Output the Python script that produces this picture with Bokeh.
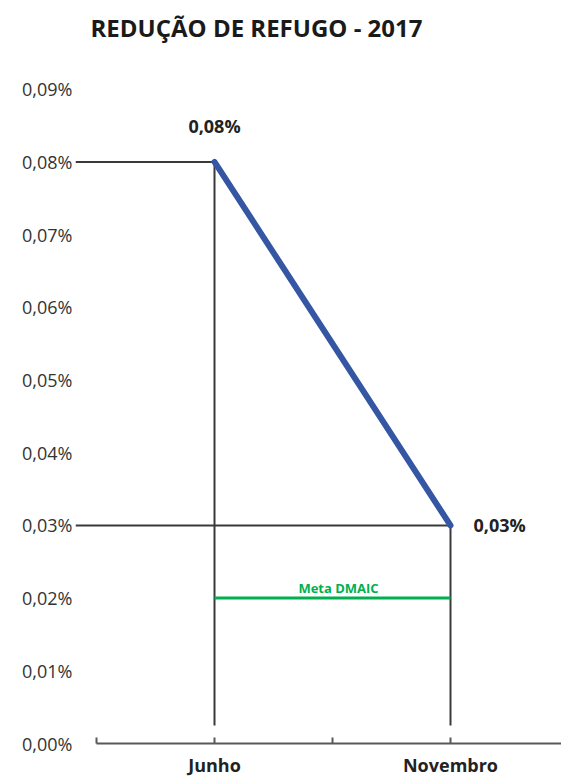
from bokeh.plotting import figure
from bokeh.models import Range1d, FixedTicker
from bokeh.core.properties import value
from bokeh.embed import file_html
from bokeh.resources import INLINE

# ---------------- data ----------------
title_text = "REDUÇÃO DE REFUGO - 2017"
categories = ["Junho", "Novembro"]
refugo = [0.08, 0.03]            # percent
refugo_labels = ["0,08%", "0,03%"]
meta_value = 0.02                # percent
meta_label = "Meta DMAIC"
y_ticks = [0.0, 0.01, 0.02, 0.03, 0.04, 0.05, 0.06, 0.07, 0.08, 0.09]
y_tick_labels = ["0,00%", "0,01%", "0,02%", "0,03%", "0,04%",
                 "0,05%", "0,06%", "0,07%", "0,08%", "0,09%"]

# ---------------- layout ----------------
W, H = 561, 778
LEFT = 75
PX_X = 236.0      # pixels per category step
PX_Y = 7270.0     # pixels per percent unit
X0_PX = 214       # pixel of first category
Y0_PX = 743       # pixel of zero

FONT = value("Open Sans")
xs = list(range(len(categories)))

x_range = Range1d((LEFT - X0_PX) / PX_X, (W - X0_PX) / PX_X)
y_range = Range1d(-(H - Y0_PX) / PX_Y, Y0_PX / PX_Y)

p = figure(width=W, height=H, x_range=x_range, y_range=y_range,
           output_backend="svg", toolbar_location=None,
           x_axis_location=None, min_border_left=LEFT,
           min_border_right=0, min_border_top=0, min_border_bottom=0)
p.outline_line_color = None
p.grid.visible = False
p.background_fill_color = "white"
p.border_fill_color = "white"

yax = p.yaxis[0]
yax.ticker = FixedTicker(ticks=y_ticks)
yax.major_label_overrides = {t: l for t, l in zip(y_ticks, y_tick_labels)}
yax.axis_line_color = None
yax.major_tick_line_color = None
yax.minor_tick_line_color = None
yax.major_tick_out = 0
yax.major_tick_in = 0
yax.major_label_standoff = 3
yax.major_label_text_font = "Open Sans"
yax.major_label_text_font_size = "18px"
yax.major_label_text_color = "#333333"

line_col = "#3a3a3a"
drop_bottom = 18 / PX_Y

# horizontal reference lines from the left edge to each point
p.segment(x0=[x_range.start] * len(xs), y0=refugo, x1=xs, y1=refugo,
          line_color=line_col, line_width=2)
# vertical drop lines
p.segment(x0=xs, y0=refugo, x1=xs, y1=[drop_bottom] * len(xs),
          line_color=line_col, line_width=2)

# x axis (custom)
p.segment(x0=[xs[0] - 0.5], y0=[0], x1=[xs[-1] + 1.0], y1=[0],
          line_color="#595959", line_width=2)
tick_x = sorted(xs + [i - 0.5 for i in xs])
tick_len = 6 / PX_Y
p.segment(x0=tick_x, y0=[0] * len(tick_x), x1=tick_x, y1=[tick_len] * len(tick_x),
          line_color="#595959", line_width=2)

# meta line
p.line(x=[xs[0], xs[-1]], y=[meta_value, meta_value], line_color="#00B050", line_width=3)
p.text(x=[(xs[0] + xs[-1]) / 2 + 6 / PX_X], y=[meta_value + 10.6 / PX_Y], text=[meta_label],
       text_font=FONT, text_font_size="13px", text_font_style="bold",
       text_color="#00B050", text_align="center", text_baseline="middle")

# main series
p.line(x=xs, y=refugo, line_color="#3456A3", line_width=6, line_cap="round")

# data labels
p.text(x=[xs[0]], y=[refugo[0] + 36 / PX_Y], text=[refugo_labels[0]],
       text_font=FONT, text_font_size="18px", text_font_style="bold",
       text_color="#222222", text_align="center", text_baseline="middle")
p.text(x=[xs[-1] + 23 / PX_X], y=[refugo[-1]], text=[refugo_labels[-1]],
       text_font=FONT, text_font_size="18px", text_font_style="bold",
       text_color="#222222", text_align="left", text_baseline="middle")

# category labels
p.text(x=xs, y=[-21 / PX_Y] * len(xs), text=categories,
       text_font=FONT, text_font_size="18px", text_font_style="bold",
       text_color="#222222", text_align="center", text_baseline="middle")

# title
p.text(x=[(256 - X0_PX) / PX_X], y=[(Y0_PX - 27) / PX_Y], text=[title_text],
       text_font=FONT, text_font_size="24px", text_font_style="bold",
       text_color="#1a1a1a", text_align="center", text_baseline="middle")

open("out.html", "w").write(file_html(p, INLINE))
